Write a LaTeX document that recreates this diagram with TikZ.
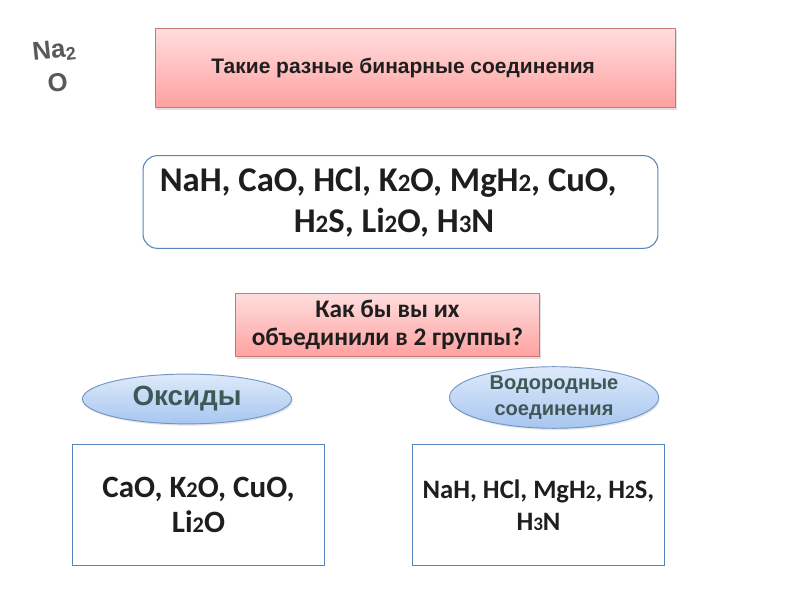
\documentclass[tikz,border=0pt]{standalone}
\usepackage{fontspec}
\setmainfont{Liberation Sans}
\newfontfamily\calib{Carlito}
\usepackage{tikz}
\usetikzlibrary{shapes.geometric,shadows}

\definecolor{pinkline}{RGB}{200,120,120}
\definecolor{pinktop}{RGB}{255,222,222}
\definecolor{pinkbot}{RGB}{255,160,160}
\definecolor{blueline}{RGB}{88,132,190}
\definecolor{bluetop}{RGB}{222,234,250}
\definecolor{bluebot}{RGB}{168,198,240}
\definecolor{slate}{RGB}{62,88,88}
\definecolor{ink}{RGB}{30,30,30}

\newcommand\dg[1]{\scalebox{0.72}{#1}}

\begin{document}
\begin{tikzpicture}[x=0.03cm,y=-0.03cm,
          every node/.style={inner sep=0pt,text=ink},
          pinkbox/.style={rectangle,draw=pinkline,line width=0.9pt,
            top color=pinktop,bottom color=pinkbot,
            drop shadow={shadow xshift=1.2pt,shadow yshift=-1.5pt,opacity=0.25}},
          listbox/.style={rectangle,draw=blueline,line width=0.9pt,fill=white},
          oval/.style={ellipse,draw=blueline!85,line width=0.8pt,
            top color=bluetop,bottom color=bluebot,text=slate,
            drop shadow={shadow xshift=1pt,shadow yshift=-1.5pt,opacity=0.2}}]
        \useasboundingbox (0,0) rectangle (800,600);
        \fill[white] (0,0) rectangle (800,600);

        \node[text=black!65,rotate=6,align=center,
          font=\bfseries\fontsize{22}{29}\selectfont] (na) at (56,66)
          {Na\textsubscript{2}\\O};

        \node[pinkbox,minimum width=523*0.85pt,minimum height=80*0.85pt,
          font=\bfseries\fontsize{17.9}{21}\selectfont] (title) at (415.5,68)
          {Такие разные бинарные соединения\kern21pt};

        \node[listbox,rounded corners=12pt,
          minimum width=517*0.85pt,minimum height=93*0.85pt,align=center,
          font=\calib\bfseries\fontsize{29.6}{35}\selectfont] (mix) at (400.5,202)
          {NaH, CaO, HCl, K\dg{2}O, MgH\dg{2}, CuO,\kern21pt\\
           H\dg{2}S, Li\dg{2}O, H\dg{3}N\kern11pt};

        \node[pinkbox,minimum width=305*0.85pt,minimum height=64*0.85pt,align=center,
          font=\calib\bfseries\fontsize{21.6}{24}\selectfont] (question) at (387.5,325)
          {Как бы вы их\\объединили в 2 группы?};

        \node[oval,minimum width=210*0.85pt,minimum height=50*0.85pt,
          font=\bfseries\fontsize{23.7}{26}\selectfont] (oxides) at (187,399)
          {Оксиды};
        \node[oval,minimum width=210*0.85pt,minimum height=59*0.85pt,align=center,
          font=\bfseries\fontsize{17.1}{22}\selectfont] (hydrides) at (554,397.5)
          {Водородные\\соединения};

        \node[listbox,minimum width=253*0.85pt,minimum height=122*0.85pt,align=center,
          font=\calib\bfseries\fontsize{26.5}{30.6}\selectfont] (oxlist) at (198.5,505)
          {CaO, K\dg{2}O, CuO,\\Li\dg{2}O};
        \node[listbox,minimum width=253*0.85pt,minimum height=122*0.85pt,align=center,
          font=\calib\bfseries\fontsize{22.7}{27}\selectfont] (hylist) at (538.5,505)
          {NaH, HCl, MgH\dg{2}, H\dg{2}S,\\H\dg{3}N};
      \end{tikzpicture}
\end{document}
